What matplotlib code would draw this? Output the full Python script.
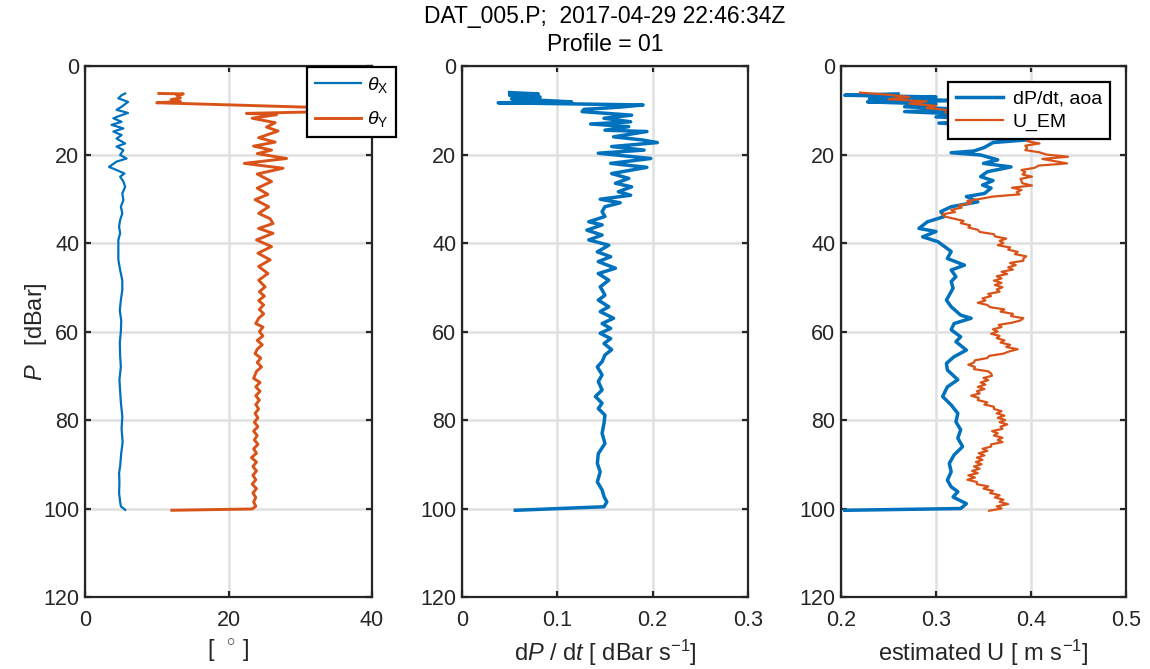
import numpy as np
import matplotlib
matplotlib.use("Agg")
import matplotlib.pyplot as plt

plt.rcParams["font.family"] = ["Liberation Sans", "DejaVu Sans"]
plt.rcParams["mathtext.fontset"] = "custom"
plt.rcParams["mathtext.rm"] = "Liberation Sans"
plt.rcParams["mathtext.it"] = "Liberation Sans:italic"
plt.rcParams["mathtext.sf"] = "Liberation Sans"

BLUE = "#0072BD"
ORANGE = "#D95319"
INK = "#262626"

# --- pitch / roll angles [deg] ---
theta_x_p = [6.2, 6.6, 7.3, 8.1, 9.2, 9.9, 10.6, 11.1, 11.8, 12.6, 13.3, 14.1, 14.8,
             15.6, 16.4, 17.5, 18.2, 19.0, 20.1, 20.9, 21.6, 22.8, 23.5, 24.3, 25.0,
             26.1, 27.3, 28.8, 30.3, 31.8, 33.3, 34.8, 36.3, 37.8, 39.3, 41.6, 43.8,
             46.1, 48.4, 50.6, 52.9, 55.2, 57.5, 60.0, 62.5, 65.6, 68.0, 70.9, 73.5,
             76.0, 79.2, 82.0, 85.0, 87.5, 90.4, 92.0, 94.0, 96.5, 98.5, 99.5, 100.3]
theta_x = [5.6, 5.1, 4.65, 6.0, 5.1, 4.4, 6.0, 5.1, 3.95, 5.1, 3.7, 5.35, 3.95,
           5.1, 4.4, 5.6, 4.4, 5.35, 4.9, 5.8, 4.4, 3.35, 4.4, 5.5, 4.9,
           5.35, 5.6, 5.2, 5.35, 5.0, 5.2, 4.9, 4.75, 4.9, 4.65, 4.65, 4.65,
           4.9, 5.2, 5.2, 5.0, 4.85, 5.05, 5.0, 4.85, 4.9, 5.0, 4.8, 4.9,
           5.0, 5.2, 5.1, 5.25, 5.05, 4.9, 4.75, 4.8, 4.75, 4.9, 5.0, 5.6]

theta_y_p = [6.2, 6.3, 6.6, 7.2, 7.6, 8.0, 8.3, 9.3, 9.9, 10.4, 10.7, 11.0, 11.8,
             12.8, 13.8, 14.7, 16.2, 17.2, 18.1, 19.0, 19.8, 20.9, 22.0, 23.1, 24.4,
             26.1, 27.6, 29.0, 30.2, 31.8, 33.3, 34.5, 35.6, 36.7, 37.8, 39.3, 40.8,
             42.3, 43.8, 45.3, 46.9, 48.4, 49.9, 51.0, 52.0, 53.0, 54.0, 55.0, 56.0,
             57.0, 58.2, 59.0, 60.0, 61.0, 62.0, 63.0, 64.0, 65.0, 66.0, 67.0, 68.0,
             69.0, 70.6, 71.5, 72.5, 73.5, 74.5, 75.5, 76.5, 77.5, 78.5, 79.5, 80.5,
             81.5, 82.5, 83.5, 84.5, 85.5, 86.5, 87.5, 88.5, 89.5, 90.5, 91.5, 92.5,
             93.5, 94.5, 95.5, 96.5, 97.5, 98.5, 99.5, 100.1, 100.4]
theta_y = [10.3, 13.7, 12.8, 13.3, 12.0, 13.3, 10.0, 31.0, 38.0, 31.0, 22.5, 26.7, 23.3,
           26.5, 25.3, 26.9, 24.2, 26.5, 23.5, 26.0, 24.0, 28.1, 22.2, 27.6, 24.0,
           26.0, 24.0, 25.5, 23.7, 25.6, 24.2, 25.8, 26.2, 24.2, 26.2, 23.9, 26.0,
           24.1, 25.8, 24.2, 25.5, 24.2, 25.1, 24.3, 25.0, 24.2, 24.9, 24.3, 24.9,
           24.2, 23.8, 24.8, 24.3, 24.8, 24.0, 24.7, 24.0, 23.7, 24.5, 24.0, 24.6,
           23.9, 23.5, 24.4, 23.8, 24.4, 23.8, 24.3, 23.8, 24.2, 23.7, 24.1, 23.6,
           24.1, 23.5, 24.0, 23.6, 24.1, 23.5, 23.9, 23.2, 23.9, 23.4, 23.9, 23.4,
           23.8, 23.3, 23.9, 23.4, 23.8, 23.5, 23.8, 23.3, 12.1]

# --- fall rate dP/dt [dBar/s] ---
dpdt_p = [6.0, 6.3, 6.6, 7.0, 7.4, 7.8, 8.1, 8.3, 8.8, 9.3, 9.8, 10.3, 11.1, 11.8,
          12.6, 13.1, 13.7, 14.5, 14.8, 16.0, 16.7, 17.3, 18.2, 19.0, 19.7, 20.9,
          22.0, 22.9, 24.3, 25.4, 26.5, 27.3, 28.4, 29.2, 30.1, 30.9, 31.8, 32.9,
          34.0, 35.2, 35.9, 37.1, 38.2, 39.3, 40.5, 42.0, 43.1, 44.2, 45.7, 46.9,
          48.4, 49.9, 50.6, 51.8, 52.9, 54.4, 55.5, 57.0, 58.2, 59.3, 60.4, 61.6,
          62.7, 64.1, 65.3, 66.8, 68.0, 69.8, 71.3, 73.2, 74.7, 76.2, 77.4, 78.9,
          80.7, 83.0, 85.3, 87.6, 89.8, 91.7, 94.0, 95.8, 97.3, 98.5, 99.6, 100.4]
dpdt = [0.050, 0.080, 0.050, 0.082, 0.052, 0.088, 0.115, 0.038, 0.190, 0.165, 0.128,
        0.126, 0.178, 0.149, 0.177, 0.135, 0.175, 0.150, 0.194, 0.159, 0.189, 0.205,
        0.157, 0.191, 0.143, 0.198, 0.156, 0.194, 0.157, 0.175, 0.161, 0.178, 0.164,
        0.177, 0.145, 0.166, 0.150, 0.147, 0.150, 0.133, 0.147, 0.131, 0.147, 0.133,
        0.154, 0.142, 0.156, 0.143, 0.161, 0.143, 0.154, 0.145, 0.147, 0.150, 0.143,
        0.154, 0.145, 0.159, 0.147, 0.156, 0.145, 0.156, 0.149, 0.157, 0.150, 0.147,
        0.142, 0.147, 0.143, 0.147, 0.140, 0.147, 0.143, 0.150, 0.149, 0.147, 0.150,
        0.143, 0.142, 0.145, 0.142, 0.147, 0.149, 0.152, 0.149, 0.056]

# --- speed from dP/dt + angle of attack [m/s] ---
u_aoa_p = [6.3, 6.6, 7.0, 7.4, 7.8, 8.1, 8.6, 9.2, 9.8, 10.3, 10.9, 11.5, 12.2, 12.9,
           13.5, 14.5, 15.5, 16.3, 16.7, 17.3, 18.4, 19.2, 19.6, 20.1, 21.2, 22.0,
           22.8, 23.9, 25.0, 25.9, 26.9, 27.6, 28.8, 29.5, 30.7, 31.8, 32.9, 34.0,
           35.2, 36.7, 37.4, 38.6, 39.7, 40.8, 41.9, 43.5, 45.0, 46.1, 47.6, 48.7,
           50.2, 52.9, 54.4, 56.3, 57.0, 58.2, 59.6, 61.2, 62.3, 64.2, 65.7, 67.2,
           68.7, 70.9, 72.5, 74.7, 76.6, 78.5, 80.4, 82.2, 84.1, 86.0, 87.9, 89.8,
           91.7, 93.6, 95.1, 96.2, 97.4, 98.9, 100.0, 100.4]
u_aoa = [0.260, 0.204, 0.300, 0.230, 0.330, 0.228, 0.300, 0.267, 0.330, 0.267, 0.330,
         0.300, 0.370, 0.303, 0.360, 0.340, 0.380, 0.350, 0.395, 0.360, 0.351, 0.340,
         0.316, 0.347, 0.365, 0.350, 0.379, 0.354, 0.347, 0.360, 0.349, 0.358, 0.351,
         0.332, 0.344, 0.316, 0.305, 0.309, 0.291, 0.282, 0.300, 0.286, 0.302, 0.309,
         0.316, 0.312, 0.330, 0.316, 0.321, 0.316, 0.318, 0.311, 0.316, 0.326, 0.337,
         0.319, 0.316, 0.326, 0.321, 0.332, 0.319, 0.311, 0.312, 0.323, 0.312, 0.307,
         0.316, 0.323, 0.321, 0.326, 0.323, 0.328, 0.319, 0.314, 0.316, 0.312, 0.316,
         0.323, 0.318, 0.332, 0.326, 0.204]

# --- EM current meter speed [m/s], one sample every 0.5 dBar from 6 dBar ---
u_em = [0.220, 0.250, 0.272, 0.250, 0.290, 0.272, 0.300, 0.290, 0.315, 0.310,
        0.335, 0.330, 0.350, 0.345, 0.362, 0.358, 0.372, 0.368, 0.383, 0.378,
        0.392, 0.399, 0.396, 0.409, 0.394, 0.396, 0.394, 0.409, 0.416, 0.439,
        0.412, 0.425, 0.438, 0.408, 0.404, 0.390, 0.394, 0.391, 0.401, 0.389,
        0.390, 0.391, 0.401, 0.380, 0.390, 0.385, 0.388, 0.360, 0.347, 0.333,
        0.337, 0.324, 0.327, 0.316, 0.320, 0.307, 0.309, 0.319, 0.329, 0.326,
        0.336, 0.334, 0.344, 0.346, 0.361, 0.362, 0.374, 0.367, 0.371, 0.365,
        0.378, 0.376, 0.386, 0.383, 0.395, 0.392, 0.392, 0.378, 0.384, 0.376,
        0.381, 0.369, 0.375, 0.364, 0.369, 0.361, 0.369, 0.362, 0.370, 0.364,
        0.367, 0.355, 0.358, 0.349, 0.352, 0.344, 0.354, 0.357, 0.372, 0.368,
        0.381, 0.379, 0.392, 0.389, 0.380, 0.366, 0.369, 0.360, 0.365, 0.358,
        0.367, 0.364, 0.372, 0.368, 0.378, 0.374, 0.386, 0.377, 0.371, 0.356,
        0.354, 0.341, 0.340, 0.334, 0.341, 0.340, 0.355, 0.358, 0.359, 0.350,
        0.355, 0.347, 0.352, 0.344, 0.351, 0.343, 0.346, 0.337, 0.345, 0.344,
        0.354, 0.351, 0.361, 0.361, 0.369, 0.364, 0.372, 0.365, 0.373, 0.367,
        0.375, 0.368, 0.370, 0.359, 0.365, 0.361, 0.370, 0.365, 0.370, 0.358,
        0.358, 0.349, 0.354, 0.345, 0.351, 0.343, 0.349, 0.342, 0.348, 0.340,
        0.346, 0.338, 0.344, 0.334, 0.341, 0.333, 0.343, 0.343, 0.355, 0.350,
        0.360, 0.357, 0.367, 0.362, 0.371, 0.367, 0.376, 0.364, 0.369, 0.356]
u_em_p = 6.0 + 0.5 * np.arange(len(u_em))

fig = plt.figure(figsize=(11.5, 6.69), dpi=100)
ax1 = fig.add_axes([0.0739, 0.1076, 0.2496, 0.7937])
ax2 = fig.add_axes([0.4017, 0.1076, 0.2487, 0.7937])
ax3 = fig.add_axes([0.7313, 0.1076, 0.2478, 0.7937])

LBL = 17


def style(ax, xlim, xticks):
    ax.set_xlim(*xlim)
    ax.set_ylim(120, 0)
    ax.set_xticks(xticks)
    ax.set_yticks([0, 20, 40, 60, 80, 100, 120])
    ax.grid(True, color="#e0e0e0", lw=1.8)
    ax.set_axisbelow(True)
    for s in ax.spines.values():
        s.set_color(INK)
        s.set_linewidth(1.6)
    ax.tick_params(direction="in", length=4.5, width=1.6, color=INK,
                   labelcolor=INK, labelsize=15.5, top=True, right=True)
    ax.tick_params(axis="x", pad=9)
    ax.tick_params(axis="y", pad=4)


def legend(ax, anchor, spacing, textpad):
    leg = ax.legend(loc="upper left", bbox_to_anchor=anchor, fontsize=14,
                    handlelength=2.4, handletextpad=textpad, labelspacing=spacing,
                    borderpad=0.4, fancybox=False, framealpha=1,
                    edgecolor="black", borderaxespad=0)
    leg.get_frame().set_linewidth(1.6)
    return leg


ax1.plot(theta_x, theta_x_p, color=BLUE, lw=1.6, label=r"$\theta_{\mathsf{X}}$")
ax1.plot(theta_y, theta_y_p, color=ORANGE, lw=2.1, label=r"$\theta_{\mathsf{Y}}$")
style(ax1, (0, 40), [0, 20, 40])
ax1.set_ylabel(r"$P$   [dBar]", fontsize=LBL, color=INK, labelpad=-4)
ax1.set_xlabel(r"[  $^{\circ}$ ]", fontsize=LBL, color=INK, labelpad=5)
legend(ax1, (0.773, 0.998), 0.75, 0.3)

ax2.plot(dpdt, dpdt_p, color=BLUE, lw=2.5)
style(ax2, (0, 0.3), [0, 0.1, 0.2, 0.3])
ax2.set_xticklabels(["0", "0.1", "0.2", "0.3"])
ax2.set_xlabel(r"d$P$ / d$t$ [ dBar s$^{-1}$]", fontsize=LBL, color=INK, labelpad=5)
ax2.set_title("DAT_005.P;  2017-04-29 22:46:34Z\nProfile = 01", fontsize=16.5,
              color="black", pad=11, linespacing=1.25)

ax3.plot(u_aoa, u_aoa_p, color=BLUE, lw=2.5, label="dP/dt, aoa")
ax3.plot(u_em, u_em_p, color=ORANGE, lw=1.6, label="U_EM")
style(ax3, (0.2, 0.5), [0.2, 0.3, 0.4, 0.5])
ax3.set_xlabel(r"estimated U [ m s$^{-1}$]", fontsize=LBL, color=INK, labelpad=5)
legend(ax3, (0.377, 0.97), 0.3, 0.5)

fig.savefig("out.png", dpi=100)
